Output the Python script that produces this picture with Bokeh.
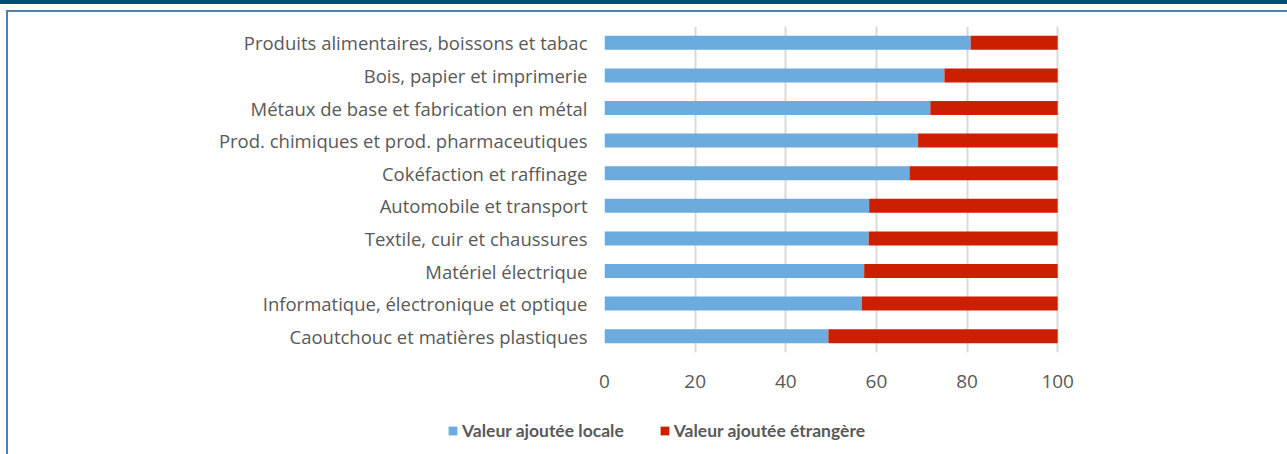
from bokeh.plotting import figure
from bokeh.layouts import column
from bokeh.models import Range1d, FixedTicker, Legend, LegendItem, ColumnDataSource
from bokeh.embed import file_html
from bokeh.resources import INLINE

categories = [
    "Produits alimentaires, boissons et tabac",
    "Bois, papier et imprimerie",
    "Métaux de base et fabrication en métal",
    "Prod. chimiques et prod. pharmaceutiques",
    "Cokéfaction et raffinage",
    "Automobile et transport",
    "Textile, cuir et chaussures",
    "Matériel électrique",
    "Informatique, électronique et optique",
    "Caoutchouc et matières plastiques",
]
locale = [80.8, 75.0, 71.9, 69.2, 67.3, 58.4, 58.3, 57.3, 56.8, 49.4]
etrangere = [round(100 - v, 1) for v in locale]
series_names = ["Valeur ajoutée locale", "Valeur ajoutée étrangère"]
x_ticks = [0, 20, 40, 60, 80, 100]

BLUE = "#6cabdd"
RED = "#cc1f00"
TEXT = "#595959"
FONT = "Open Sans"

data = {"cat": categories, "locale": locale, "etrangere": etrangere}

# ---- main chart ----
p = figure(
    width=1287, height=410,
    y_range=list(reversed(categories)),
    x_range=Range1d(0, 100.4),
    output_backend="svg", toolbar_location=None,
    min_border_left=604, min_border_right=228,
    min_border_top=26, min_border_bottom=58,
)
p.frame_align = False
p.outline_line_color = None
p.border_fill_color = None
p.background_fill_color = None

p.hbar_stack(["locale", "etrangere"], y="cat", height=0.43,
             color=[BLUE, RED], line_color=None, source=ColumnDataSource(data))

p.xaxis.ticker = FixedTicker(ticks=x_ticks)
p.xaxis.axis_line_color = None
p.xaxis.major_tick_line_color = None
p.xaxis.minor_tick_line_color = None
p.xaxis.major_tick_out = 0
p.xaxis.major_tick_in = 0
p.xaxis.major_label_text_font = FONT
p.xaxis.major_label_text_font_size = "19px"
p.xaxis.major_label_text_color = TEXT
p.xaxis.major_label_standoff = 22

p.yaxis.axis_line_color = None
p.yaxis.major_tick_line_color = None
p.yaxis.minor_tick_line_color = None
p.yaxis.major_tick_out = 0
p.yaxis.major_tick_in = 0
p.yaxis.major_label_text_font = FONT
p.yaxis.major_label_text_font_size = "18.5px"
p.yaxis.major_label_text_color = TEXT
p.yaxis.major_label_standoff = 17

p.ygrid.grid_line_color = None
p.xgrid.grid_line_color = "#d9d9d9"
p.xgrid.grid_line_width = 2

# ---- legend strip (same series as zero-height proxies, nothing visible) ----
lg = figure(
    width=1287, height=44,
    x_range=Range1d(200, 300), y_range=list(reversed(categories)),
    output_backend="svg", toolbar_location=None,
    x_axis_location=None, y_axis_location=None,
    min_border=0,
)
lg.frame_align = False
lg.grid.visible = False
lg.outline_line_color = None
lg.border_fill_color = None
lg.background_fill_color = None
rl = lg.hbar_stack(["locale", "etrangere"], y="cat", height=0,
                   color=[BLUE, RED], line_color=None,
                   source=ColumnDataSource(data))

legend = Legend(
    items=[LegendItem(label=series_names[0], renderers=[rl[0]]),
           LegendItem(label=series_names[1], renderers=[rl[1]])],
    orientation="horizontal",
    location=(447, 13),
    padding=0, margin=0, spacing=35,
    glyph_width=11, glyph_height=11, label_standoff=4, label_height=20,
    label_text_font="Lato", label_text_font_size="17.5px",
    label_text_font_style="bold", label_text_color=TEXT,
    border_line_color=None, background_fill_alpha=0,
)
lg.add_layout(legend, "center")

layout = column(p, lg, spacing=0)
layout.styles = {
    "background": (
        "linear-gradient(#004a80,#004a80) 0 0/100% 4px no-repeat,"
        "linear-gradient(#4f81b0,#4f81b0) 6px 10px/100% 2px no-repeat,"
        "linear-gradient(#4f81b0,#4f81b0) 6px 10px/2px 100% no-repeat,"
        "white"
    ),
}

open("out.html", "w").write(file_html(layout, INLINE))
